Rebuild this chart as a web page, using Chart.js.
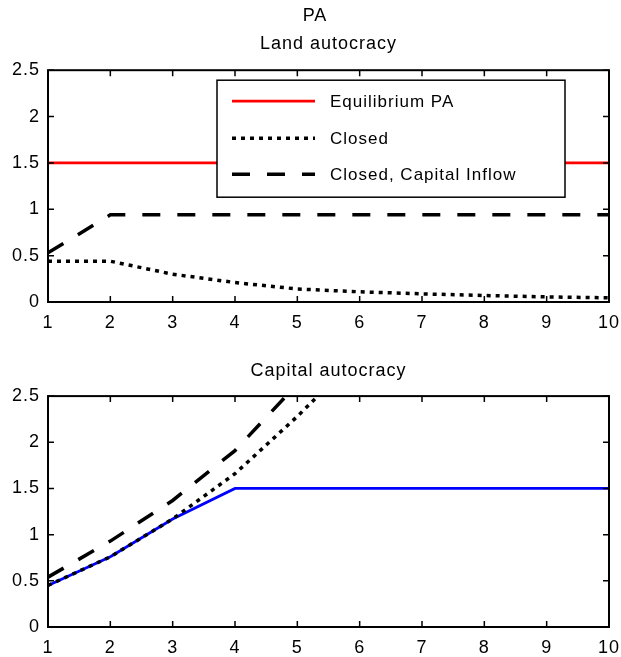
<!DOCTYPE html>
<html>
<head>
<meta charset="utf-8">
<title>PA</title>
<script src="https://cdn.jsdelivr.net/npm/chart.js@4.4.1/dist/chart.umd.min.js"></script>
<style>
body { margin: 0; background: #fff; }
#wrap { position: relative; width: 621px; height: 657px; }
canvas { position: absolute; left: 0; }
#land { top: 0; }
#capital { top: 330px; }
</style>
</head>
<body>
<div id="wrap">
	<canvas id="land" width="621" height="330"></canvas>
	<canvas id="capital" width="621" height="327"></canvas>
</div>
<script>
var periods = [1, 2, 3, 4, 5, 6, 7, 8, 9, 10];
var yTicks = [0, 0.5, 1, 1.5, 2, 2.5];
var seriesNames = ['Equilibrium PA', 'Closed', 'Closed, Capital Inflow'];

// land autocracy
var landEquilibrium = [1.5, 1.5, 1.5, 1.5, 1.5, 1.5, 1.5, 1.5, 1.5, 1.5];
var landClosed = [0.44, 0.44, 0.30, 0.21, 0.14, 0.11, 0.088, 0.07, 0.055, 0.045];
var landInflow = [0.53, 0.94, 0.94, 0.94, 0.94, 0.94, 0.94, 0.94, 0.94, 0.94];

// capital autocracy (closed paths leave the plot above 2.5)
var capitalEquilibrium = [0.45, 0.76, 1.17, 1.5, 1.5, 1.5, 1.5, 1.5, 1.5, 1.5];
var capitalClosed = [0.45, 0.76, 1.17, 1.66, 2.28, 2.95, 3.7, 4.5, 5.4, 6.3];
var capitalInflow = [0.54, 0.93, 1.37, 1.91, 2.63, 3.4, 4.2, 5.0, 5.9, 6.8];

Chart.defaults.font.family = "'Liberation Sans', Arial, sans-serif";
Chart.defaults.font.size = 18;
Chart.defaults.color = '#000';

function points(vals) {
	return periods.map(function(p, i) { return {x: p, y: vals[i]}; });
}

function lines(eqColor, eq, closed, inflow) {
	return [
		{label: seriesNames[0], data: points(eq), borderColor: eqColor, borderWidth: 2.8, order: 3},
		{label: seriesNames[1], data: points(closed), borderColor: '#000', borderWidth: 3.5, borderDash: [4, 5], order: 1},
		{label: seriesNames[2], data: points(inflow), borderColor: '#000', borderWidth: 3.5, borderDash: [18, 17], order: 2}
	];
}

var spacing = {
	id: 'spacing',
	beforeUpdate: function(chart) { chart.ctx.letterSpacing = '1px'; },
	beforeDraw: function(chart) { chart.ctx.letterSpacing = '1px'; }
};

// matlab style box with inward ticks
var axesBox = {
	id: 'axesBox',
	afterDatasetsDraw: function(chart) {
		var a = chart.chartArea, ctx = chart.ctx;
		var xs = chart.scales.x, ys = chart.scales.y;
		ctx.save();
		ctx.strokeStyle = '#000';
		ctx.lineWidth = 1.5;
		ctx.beginPath();
		periods.forEach(function(p) {
			var px = xs.getPixelForValue(p);
			ctx.moveTo(px, a.bottom); ctx.lineTo(px, a.bottom - 6);
			ctx.moveTo(px, a.top); ctx.lineTo(px, a.top + 6);
		});
		yTicks.forEach(function(v) {
			var py = ys.getPixelForValue(v);
			ctx.moveTo(a.left, py); ctx.lineTo(a.left + 6, py);
			ctx.moveTo(a.right, py); ctx.lineTo(a.right - 6, py);
		});
		ctx.stroke();
		ctx.lineWidth = 2;
		ctx.strokeRect(a.left, a.top, a.right - a.left, a.bottom - a.top);
		ctx.restore();
	}
};

var boxLegend = {
	id: 'boxLegend',
	afterDraw: function(chart, args, opts) {
		if (!opts.show) return;
		var a = chart.chartArea, ctx = chart.ctx;
		var left = a.left + 169, top = a.top + 10, w = 348, h = 117;
		var rows = [21, 58, 94];
		ctx.save();
		ctx.fillStyle = '#fff';
		ctx.fillRect(left, top, w, h);
		ctx.strokeStyle = '#000';
		ctx.lineWidth = 1.5;
		ctx.strokeRect(left, top, w, h);
		ctx.font = "17px 'Liberation Sans', Arial, sans-serif";
		ctx.textBaseline = 'middle';
		ctx.fillStyle = '#000';
		chart.data.datasets.forEach(function(ds, i) {
			var y = top + rows[i];
			ctx.beginPath();
			ctx.strokeStyle = ds.borderColor;
			ctx.lineWidth = ds.borderWidth;
			ctx.setLineDash(ds.borderDash || []);
			ctx.moveTo(left + 15, y);
			ctx.lineTo(left + 98, y);
			ctx.stroke();
			ctx.setLineDash([]);
			ctx.fillText(ds.label, left + 113, y + 1);
		});
		ctx.restore();
	}
};

function makeChart(id, datasets, titles, bottomHeight, showLegend) {
	return new Chart(document.getElementById(id), {
		type: 'line',
		data: {datasets: datasets},
		options: {
			responsive: false,
			animation: false,
			devicePixelRatio: 1,
			layout: {padding: {left: 9, right: 0, top: 0, bottom: 0}},
			elements: {
				point: {radius: 0},
				line: {tension: 0, fill: false}
			},
			datasets: {line: {clip: 0}},
			scales: {
				x: {
					type: 'linear', min: 1, max: 10,
					ticks: {stepSize: 1, padding: 10, maxRotation: 0, autoSkip: false},
					grid: {display: false, drawTicks: false},
					border: {display: false},
					afterFit: function(s) { s.height = bottomHeight; s.paddingLeft = 0; s.paddingRight = 12; }
				},
				y: {
					min: 0, max: 2.5,
					ticks: {stepSize: 0.5, padding: 8, callback: function(v) { return String(v); }},
					grid: {display: false, drawTicks: false},
					border: {display: false},
					afterFit: function(s) { s.width = 39; }
				}
			},
			plugins: {
				legend: {display: false},
				tooltip: {enabled: false},
				title: titles.title,
				subtitle: titles.subtitle,
				boxLegend: {show: showLegend}
			}
		},
		plugins: [spacing, axesBox, boxLegend]
	});
}

makeChart('land', lines('#ff0000', landEquilibrium, landClosed, landInflow), {
	title: {display: true, text: 'PA', font: {weight: 'normal', size: 18}, padding: {top: 5, bottom: 0}},
	subtitle: {display: true, text: 'Land autocracy', fullSize: false, font: {size: 18}, padding: {top: 7, bottom: 15}}
}, 28, true);

makeChart('capital', lines('#0000ff', capitalEquilibrium, capitalClosed, capitalInflow), {
	title: {display: true, text: 'Capital autocracy', fullSize: false, font: {weight: 'normal', size: 18}, padding: {top: 30, bottom: 14.5}},
	subtitle: {display: false}
}, 30, false);
</script>
</body>
</html>
